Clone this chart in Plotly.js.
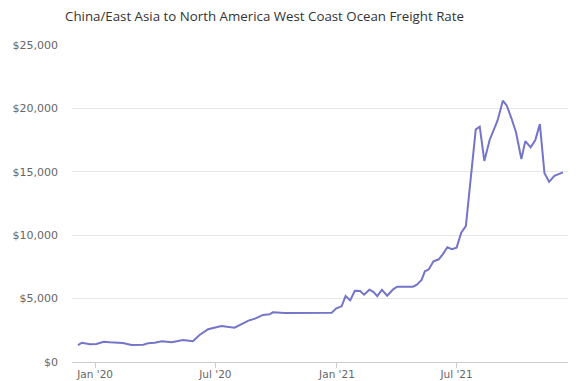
<!DOCTYPE html>
<html>
<head>
<meta charset="utf-8">
<script src="https://cdn.plot.ly/plotly-3.0.1.min.js"></script>
<style>
  html, body { margin: 0; padding: 0; background: #fff; }
  #chart { width: 578px; height: 381px; }
</style>
</head>
<body>
<div id="chart"></div>
<script>
const chartTitle = "China/East Asia to North America West Coast Ocean Freight Rate";

const dates = [
  "2019-12-06", "2019-12-12", "2019-12-24", "2020-01-03", "2020-01-14", "2020-01-23",
  "2020-02-12", "2020-02-25", "2020-03-14", "2020-03-21", "2020-03-31", "2020-04-11",
  "2020-04-26", "2020-05-13", "2020-05-28", "2020-06-07", "2020-06-20", "2020-06-30",
  "2020-07-10", "2020-07-30", "2020-08-10", "2020-08-20", "2020-08-30", "2020-09-11",
  "2020-09-21", "2020-09-26", "2020-10-14", "2020-12-01", "2020-12-24", "2020-12-31",
  "2021-01-08", "2021-01-14", "2021-01-21", "2021-01-28", "2021-02-05", "2021-02-11",
  "2021-02-19", "2021-02-25", "2021-03-03", "2021-03-10", "2021-03-18", "2021-03-27",
  "2021-04-02", "2021-04-26", "2021-05-02", "2021-05-09", "2021-05-14", "2021-05-20",
  "2021-05-27", "2021-06-04", "2021-06-10", "2021-06-17", "2021-06-24", "2021-07-01",
  "2021-07-08", "2021-07-15", "2021-07-30", "2021-08-05", "2021-08-12", "2021-08-20",
  "2021-08-27", "2021-09-01", "2021-09-09", "2021-09-15", "2021-09-22", "2021-09-29",
  "2021-10-07", "2021-10-13", "2021-10-21", "2021-10-28", "2021-11-04", "2021-11-11",
  "2021-11-18", "2021-11-26", "2021-12-09"
];

const rates = [
  1340, 1520, 1400, 1420, 1600, 1550,
  1500, 1340, 1360, 1470, 1520, 1630,
  1550, 1730, 1640, 2130, 2580, 2680,
  2840, 2700, 3000, 3260, 3420, 3710,
  3760, 3920, 3860, 3890, 3890, 4230,
  4390, 5200, 4860, 5620, 5600, 5310,
  5700, 5540, 5200, 5700, 5230, 5730,
  5940, 5940, 6100, 6470, 7150, 7310,
  7940, 8100, 8490, 9050, 8890, 9020,
  10200, 10720, 18350, 18560, 15860, 17510,
  18430, 19050, 20610, 20210, 19220, 18100,
  16010, 17420, 16930, 17480, 18760, 14880,
  14210, 14680, 14950
];

const yTickVals = [0, 5000, 10000, 15000, 20000, 25000];
const yTickText = ["$0", "$5,000", "$10,000", "$15,000", "$20,000", "$25,000"];
const xTickVals = ["2020-01-01", "2020-07-01", "2021-01-01", "2021-07-01"];
const xTickText = ["Jan '20", "Jul '20", "Jan '21", "Jul '21"];

const tickFont = "DejaVu Sans, Verdana, sans-serif";

const trace = {
  x: dates,
  y: rates,
  type: "scatter",
  mode: "lines",
  line: { color: "#7474c9", width: 2 },
  hoverinfo: "x+y"
};

const layout = {
  width: 578,
  height: 381,
  paper_bgcolor: "#ffffff",
  plot_bgcolor: "#ffffff",
  margin: { l: 72, r: 10, t: 45, b: 19 },
  showlegend: false,
  font: { family: tickFont, color: "#666666", size: 11 },
  title: {
    text: chartTitle,
    font: { family: "Open Sans, DejaVu Sans, sans-serif", size: 13.3, color: "#333333" },
    xref: "container", x: 65 / 578, xanchor: "left",
    yref: "container", y: 1 - 16 / 381, yanchor: "middle"
  },
  xaxis: {
    type: "date",
    range: ["2019-11-27", "2021-12-16 14:00"],
    tickvals: xTickVals,
    ticktext: xTickText,
    showgrid: false,
    zeroline: false,
    showline: true,
    linecolor: "#cccccc",
    linewidth: 1,
    ticks: "outside",
    ticklen: 5,
    tickcolor: "#cccccc",
    ticklabelstandoff: -3,
    tickfont: { family: tickFont, size: 10.5, color: "#666666" },
    fixedrange: true
  },
  yaxis: {
    range: [0, 25000],
    tickvals: yTickVals,
    ticktext: yTickText,
    showgrid: true,
    gridcolor: "#e6e6e6",
    gridwidth: 1,
    zeroline: false,
    showline: false,
    ticks: "",
    ticklabelstandoff: 13,
    tickfont: { family: tickFont, size: 11, color: "#666666" },
    fixedrange: true
  }
};

Plotly.newPlot("chart", [trace], layout, { displayModeBar: false, staticPlot: true });
</script>
</body>
</html>
